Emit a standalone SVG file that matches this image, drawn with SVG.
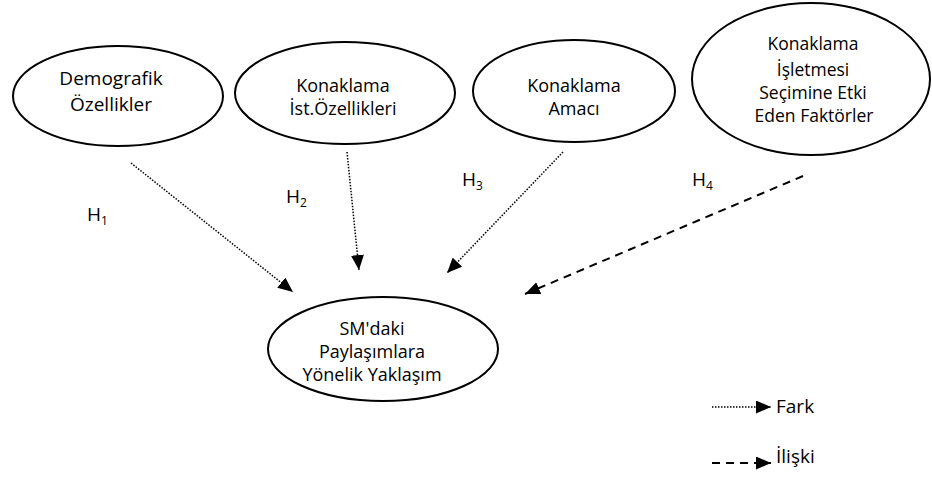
<svg xmlns="http://www.w3.org/2000/svg" width="932" height="479" viewBox="0 0 932 479">
<style>
.n{fill:#fff;stroke:#000;stroke-width:2}
.t{font-family:"Open Sans","Noto Sans",sans-serif;font-size:18px;fill:#000;text-anchor:middle}
.s{font-size:17.5px}
.b{font-size:19px}
.h{font-family:"Open Sans","Noto Sans",sans-serif;font-size:19px;fill:#000}
.dot{stroke:#000;stroke-width:1.5;stroke-dasharray:1.5 1.5;fill:none}
.dash{stroke:#000;stroke-width:2;stroke-dasharray:8 6;fill:none}
</style>
<defs>
<marker id="ah2" markerWidth="15" markerHeight="13" refX="15" refY="6.5" orient="auto" markerUnits="userSpaceOnUse" viewBox="0 0 15 13">
<path d="M0,0 L15,6.5 L0,13 z" fill="#000"/>
</marker>
</defs>
<g id="n1"><ellipse class="n" cx="118" cy="96" rx="105" ry="50"/>
<text class="t b" x="111" y="85">Demografik</text><text class="t b" x="111" y="111">Özellikler</text></g>
<g id="n2"><ellipse class="n" cx="345" cy="93" rx="110" ry="51"/>
<text class="t" x="343" y="92">Konaklama</text><text class="t" x="343" y="115">İst.Özellikleri</text></g>
<g id="n3"><ellipse class="n" cx="574" cy="91" rx="101" ry="51"/>
<text class="t" x="574" y="92">Konaklama</text><text class="t" x="574" y="115">Amacı</text></g>
<g id="n4"><ellipse class="n" cx="811" cy="79" rx="119" ry="76"/>
<text class="t s" x="813" y="50">Konaklama</text><text class="t s" x="813" y="76">İşletmesi</text><text class="t s" x="813" y="99">Seçimine Etki</text><text class="t s" x="814" y="122">Eden Faktörler</text></g>
<g id="n5"><ellipse class="n" cx="383" cy="349" rx="115" ry="52"/>
<text class="t" x="372" y="335">SM'daki</text><text class="t" x="372" y="358">Paylaşımlara</text><text class="t" x="372" y="381">Yönelik Yaklaşım</text></g>
<g id="labels">
<text class="h" x="87" y="221">H<tspan font-size="12" dy="4">1</tspan></text>
<text class="h" x="286" y="203">H<tspan font-size="12" dy="4">2</tspan></text>
<text class="h" x="462" y="186">H<tspan font-size="12" dy="4">3</tspan></text>
<text class="h" x="692" y="186">H<tspan font-size="12" dy="4">4</tspan></text>
</g>
<g id="connectors">
<line class="dot" x1="131" y1="163" x2="293" y2="292" marker-end="url(#ah2)"/>
<line class="dot" x1="347" y1="152" x2="359" y2="270" marker-end="url(#ah2)"/>
<line class="dot" x1="563" y1="152" x2="447" y2="273" marker-end="url(#ah2)"/>
<line class="dash" x1="803" y1="176" x2="525" y2="294" marker-end="url(#ah2)"/>
<line class="dot" x1="712" y1="407" x2="771" y2="407" marker-end="url(#ah2)"/>
<line class="dash" x1="712" y1="463" x2="771" y2="463" marker-end="url(#ah2)"/>
</g>
<g id="legend">
<text class="h" x="776" y="413">Fark</text>
<text class="h" x="776" y="463">İlişki</text>
</g>
</svg>
